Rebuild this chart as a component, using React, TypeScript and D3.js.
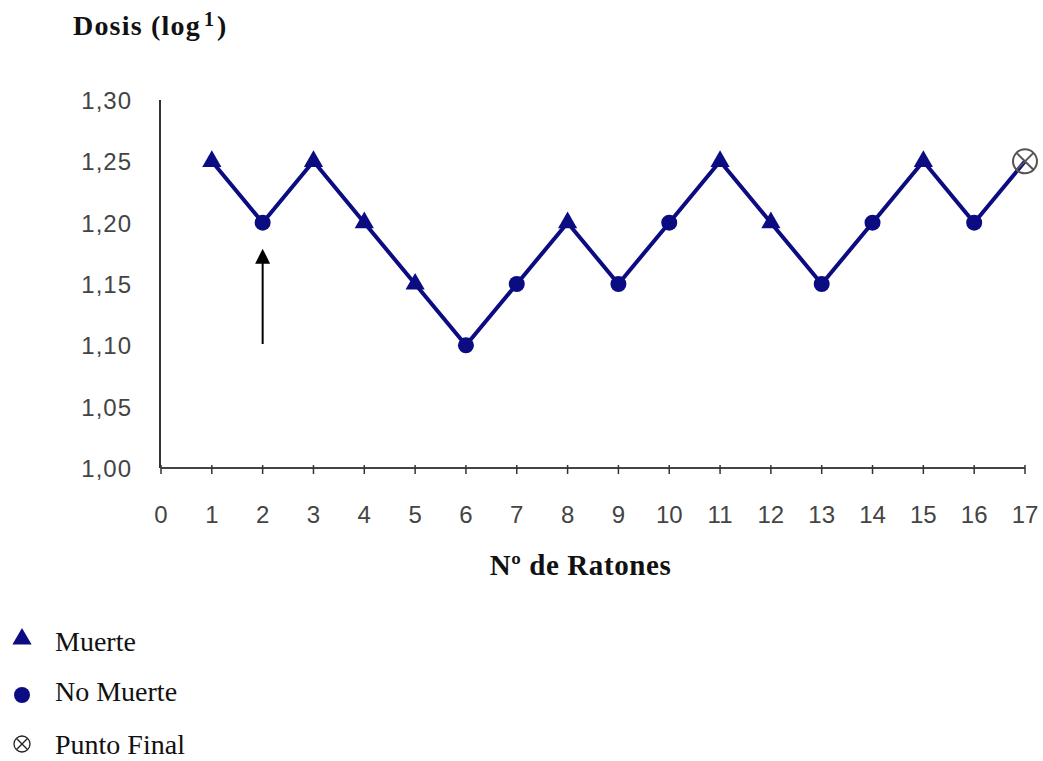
import React from 'react';
import * as d3 from 'd3';

// mouse number, dose (log) and outcome
const ratones = [1, 2, 3, 4, 5, 6, 7, 8, 9, 10, 11, 12, 13, 14, 15, 16, 17];
const dosis = [1.25, 1.2, 1.25, 1.2, 1.15, 1.1, 1.15, 1.2, 1.15, 1.2, 1.25, 1.2, 1.15, 1.2, 1.25, 1.2, 1.25];
const resultado = ['M', 'N', 'M', 'M', 'M', 'N', 'N', 'M', 'N', 'N', 'M', 'M', 'N', 'N', 'M', 'N', 'F'];
const yTicks = [1.0, 1.05, 1.1, 1.15, 1.2, 1.25, 1.3];
const xTicks = d3.range(0, 18);
const arrowAt = 2;

const legend = [
  { key: 'M', label: 'Muerte' },
  { key: 'N', label: 'No Muerte' },
  { key: 'F', label: 'Punto Final' },
];

const width = 1043,
  height = 761,
  marginLeft = 161,
  marginRight = 18,
  marginTop = 100,
  plotBottom = 468;

const navy = '#0c0c82';
const serif = '"Liberation Serif", "Times New Roman", serif';
const sans = '"Liberation Sans", Arial, sans-serif';

const fmt = (v: number) => v.toFixed(2).replace('.', ',');

function Marker({ kind, cx, cy }: { kind: string; cx: number; cy: number }) {
  if (kind === 'M') {
    const tri = d3.symbol(d3.symbolTriangle, 160)();
    return <path d={tri as string} transform={`translate(${cx},${cy})`} fill={navy} />;
  }
  if (kind === 'N') return <circle cx={cx} cy={cy} r={8} fill={navy} />;
  const r = 12,
    k = r * Math.SQRT1_2;
  return (
    <g stroke="#555" strokeWidth={2} fill="none">
      <circle cx={cx} cy={cy} r={r} />
      <line x1={cx - k} y1={cy - k} x2={cx + k} y2={cy + k} />
      <line x1={cx - k} y1={cy + k} x2={cx + k} y2={cy - k} />
    </g>
  );
}

export default function App() {
  const x = d3
    .scaleLinear()
    .domain([0, 17])
    .range([marginLeft, width - marginRight]);
  const y = d3.scaleLinear().domain([1.0, 1.3]).range([plotBottom, marginTop]);

  const pts = ratones.map((r, i) => ({ r, d: dosis[i], k: resultado[i] }));
  const line = d3
    .line<{ r: number; d: number }>()
    .x((p) => x(p.r))
    .y((p) => y(p.d));

  const ax = x(arrowAt);
  const tipY = y(1.2) + 26;

  return (
    <svg
      width={width}
      height={height}
      style={{ position: 'absolute', left: 0, top: 0, background: '#fff' }}
    >
      <text x={73} y={35} fontFamily={serif} fontWeight="bold" fontSize={28} letterSpacing={1.2} fill="#111">
        Dosis (log
        <tspan dx={3} dy={-9} fontSize={20}>1</tspan>
        <tspan dx={2} dy={9}>)</tspan>
      </text>

      {/* y axis */}
      <line x1={marginLeft - 1} x2={marginLeft - 1} y1={marginTop} y2={plotBottom} stroke="#333" strokeWidth={2} />
      {yTicks.map((t) => (
        <text
          key={t}
          x={132}
          y={y(t)}
          dy="0.37em"
          textAnchor="end"
          fontFamily={sans}
          fontSize={24}
          letterSpacing={1}
          fill="#444"
        >
          {fmt(t)}
        </text>
      ))}

      {/* x axis */}
      <line x1={marginLeft} x2={x(17)} y1={plotBottom} y2={plotBottom} stroke="#444" strokeWidth={2} />
      {xTicks.map((t) => (
        <g key={t}>
          <line x1={x(t)} x2={x(t)} y1={plotBottom - 3} y2={plotBottom + 6} stroke="#333" strokeWidth={1.5} />
          <text
            x={x(t)}
            y={523}
            textAnchor="middle"
            fontFamily={sans}
            fontSize={24}
            fill="#444"
          >
            {t}
          </text>
        </g>
      ))}
      <text
        x={(488 + 673) / 2}
        y={575}
        textAnchor="middle"
        fontFamily={serif}
        fontWeight="bold"
        fontSize={29}
        letterSpacing={0.6}
        fill="#111"
      >
        Nº de Ratones
      </text>

      {/* series */}
      <path d={line(pts) as string} fill="none" stroke={navy} strokeWidth={4} strokeLinejoin="round" />
      {pts.map((p) => (
        <Marker key={p.r} kind={p.k} cx={x(p.r)} cy={y(p.d)} />
      ))}

      {/* arrow marking the start */}
      <line x1={ax} x2={ax} y1={344} y2={tipY + 12} stroke="#000" strokeWidth={2} />
      <path d={`M${ax},${tipY} L${ax - 7.5},${tipY + 15} L${ax + 7.5},${tipY + 15}Z`} fill="#000" />

      {/* legend */}
      {legend.map((l, i) => {
        const base = [651, 701, 754][i];
        return (
          <g key={l.key}>
            {l.key === 'F' ? (
              <g stroke="#222" strokeWidth={1.3} fill="none">
                <circle cx={22} cy={base - 10} r={8} />
                <line x1={16.3} y1={base - 15.7} x2={27.7} y2={base - 4.3} />
                <line x1={16.3} y1={base - 4.3} x2={27.7} y2={base - 15.7} />
              </g>
            ) : (
              <Marker kind={l.key} cx={22} cy={base - 12 + (l.key === 'N' ? 6 : 0)} />
            )}
            <text x={55} y={base} fontFamily={serif} fontSize={28} fill="#111">
              {l.label}
            </text>
          </g>
        );
      })}
    </svg>
  );
}
